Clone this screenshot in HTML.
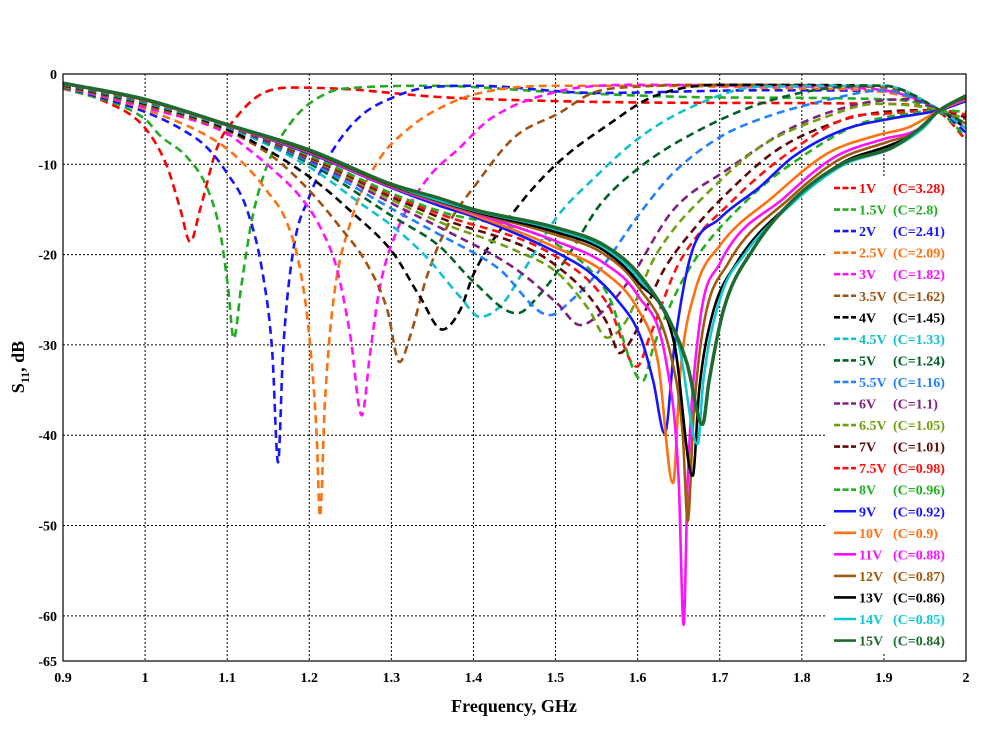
<!DOCTYPE html>
<html><head><meta charset="utf-8"><style>
body{margin:0;background:#fff;width:1000px;height:726px;overflow:hidden}
svg text{font-family:"Liberation Serif",serif;font-weight:bold}
</style></head><body>
<svg id="chart" width="1000" height="726" viewBox="0 0 1000 726" xmlns="http://www.w3.org/2000/svg"></svg>
<script>
const xTicks=[0.9,1,1.1,1.2,1.3,1.4,1.5,1.6,1.7,1.8,1.9,2];
const xTickLabels=["0.9","1","1.1","1.2","1.3","1.4","1.5","1.6","1.7","1.8","1.9","2"];
const yTicks=[0,-10,-20,-30,-40,-50,-60,-65];
const yTickLabels=["0","-10","-20","-30","-40","-50","-60","-65"];
const voltLabels=["1V","1.5V","2V","2.5V","3V","3.5V","4V","4.5V","5V","5.5V","6V","6.5V","7V","7.5V","8V","9V","10V","11V","12V","13V","14V","15V"];
const capLabels=["(C=3.28)","(C=2.8)","(C=2.41)","(C=2.09)","(C=1.82)","(C=1.62)","(C=1.45)","(C=1.33)","(C=1.24)","(C=1.16)","(C=1.1)","(C=1.05)","(C=1.01)","(C=0.98)","(C=0.96)","(C=0.92)","(C=0.9)","(C=0.88)","(C=0.87)","(C=0.86)","(C=0.85)","(C=0.84)"];
const s1=[[0.9,-1.6],[0.95,-3],[1.0,-6],[1.027,-10.3],[1.043,-15],[1.055,-18.6],[1.067,-15],[1.088,-8.1],[1.112,-4.7],[1.14,-2.3],[1.18,-1.5],[1.25,-1.7],[1.3,-2.1],[1.35,-2.5],[1.5,-3],[1.7,-3.2],[1.9,-3.3],[1.968,-4.3],[2.0,-7.3]];
const s15=[[0.9,-1.5],[1.0,-5],[1.018,-6.8],[1.051,-9.2],[1.075,-12.5],[1.091,-17.3],[1.101,-23.6],[1.108,-29.3],[1.117,-23.6],[1.13,-16.2],[1.148,-10.3],[1.18,-5.1],[1.222,-2.1],[1.26,-1.5],[1.35,-1.3],[1.5,-2],[1.7,-2.6],[1.9,-2.8],[1.968,-4.2],[2.0,-7]];
const s2=[[0.9,-1.4],[1.0,-4.2],[1.046,-6.2],[1.075,-8.1],[1.1,-11],[1.124,-15],[1.144,-22.5],[1.155,-30.9],[1.162,-43],[1.168,-30.9],[1.18,-19.8],[1.2,-13.6],[1.229,-8.4],[1.262,-4.7],[1.302,-2.6],[1.343,-1.5],[1.4,-1.3],[1.55,-2.1],[1.75,-1.8],[1.9,-1.9],[1.968,-4],[2.0,-6.5]];
const s25=[[0.9,-1.35],[1.0,-3.9],[1.091,-7.7],[1.124,-10.3],[1.148,-12.9],[1.173,-16.5],[1.189,-21.7],[1.2,-29],[1.209,-40],[1.213,-49],[1.219,-36.5],[1.229,-25.4],[1.25,-16.5],[1.282,-9.9],[1.323,-5.9],[1.363,-3.6],[1.408,-2.1],[1.5,-1.3],[1.6,-1.3],[1.8,-1.6],[1.9,-2],[1.968,-4],[2.0,-6]];
const s3=[[0.9,-1.3],[1.0,-3.7],[1.1,-6.6],[1.124,-8.2],[1.156,-10.6],[1.189,-13.6],[1.213,-16.9],[1.234,-21.7],[1.25,-29],[1.264,-37.8],[1.274,-31],[1.286,-23.6],[1.307,-17.3],[1.343,-11.7],[1.384,-8.1],[1.42,-5],[1.5,-2],[1.6,-1.2],[1.8,-1.4],[1.9,-1.8],[1.968,-4],[2.0,-6]];
const s35=[[0.9,-1.3],[1.0,-3.5],[1.1,-6.3],[1.156,-9.2],[1.2,-12.9],[1.237,-16.9],[1.27,-21],[1.295,-26.1],[1.31,-31.9],[1.323,-29],[1.343,-22.5],[1.368,-16.9],[1.404,-12.1],[1.45,-7],[1.505,-4.3],[1.545,-2.1],[1.6,-1.4],[1.7,-1.2],[1.9,-1.5],[1.968,-4],[2.0,-5.5]];
const s4=[[0.9,-1.25],[1.0,-3.3],[1.1,-6.1],[1.205,-11.7],[1.253,-15.4],[1.302,-19.8],[1.335,-24.7],[1.362,-28.3],[1.384,-26.1],[1.4,-22.2],[1.448,-15.4],[1.502,-9.9],[1.566,-5.5],[1.619,-2.5],[1.7,-1.2],[1.9,-1.3],[1.968,-4],[2.0,-6]];
const s45=[[0.9,-1.2],[1.0,-3.2],[1.1,-5.9],[1.2,-10.3],[1.262,-14.3],[1.302,-16.9],[1.343,-20.3],[1.384,-24.7],[1.408,-26.9],[1.435,-25.5],[1.461,-21.8],[1.502,-15.8],[1.545,-11.7],[1.603,-7],[1.667,-3.6],[1.749,-1.4],[1.9,-1.3],[1.968,-4],[2.0,-6]];
const s5=[[0.9,-1.2],[1.0,-3.1],[1.1,-5.8],[1.2,-9.9],[1.302,-15.8],[1.359,-19.1],[1.4,-23],[1.453,-26.5],[1.48,-24.5],[1.514,-20.3],[1.554,-14.5],[1.603,-10.3],[1.667,-6.6],[1.749,-3.3],[1.83,-1.6],[1.9,-1.3],[1.968,-4],[2.0,-5.5]];
const s55=[[0.9,-1.15],[1.0,-3.05],[1.1,-5.8],[1.2,-9.7],[1.302,-15],[1.359,-17.8],[1.43,-21.5],[1.493,-26.7],[1.52,-25],[1.554,-21.7],[1.603,-15.4],[1.643,-11],[1.7,-7],[1.749,-5],[1.83,-2.9],[1.9,-1.8],[1.968,-4],[2.0,-5]];
const s6=[[0.9,-1.15],[1.0,-3],[1.1,-5.75],[1.2,-9.5],[1.3,-14.3],[1.359,-17],[1.45,-21.5],[1.502,-25.4],[1.53,-27.8],[1.555,-26.5],[1.587,-23.2],[1.643,-15.1],[1.709,-10.6],[1.789,-5.9],[1.871,-3.3],[1.93,-2.8],[1.968,-4],[2.0,-5]];
const s65=[[0.9,-1.1],[1.0,-3],[1.1,-5.7],[1.2,-9.3],[1.3,-13.9],[1.359,-16.4],[1.45,-19.5],[1.502,-22],[1.54,-26],[1.563,-29.2],[1.585,-27.5],[1.619,-20.6],[1.643,-17.3],[1.676,-14],[1.749,-8.1],[1.831,-4.7],[1.891,-3.3],[1.968,-4],[2.0,-5]];
const s7=[[0.9,-1.1],[1.0,-2.95],[1.1,-5.7],[1.2,-9.2],[1.3,-13.6],[1.359,-15.9],[1.502,-21.3],[1.563,-27.6],[1.578,-30.9],[1.595,-29],[1.63,-22],[1.67,-17],[1.7,-14],[1.77,-8.4],[1.85,-5.1],[1.891,-4.3],[1.968,-4],[2.0,-4.8]];
const s75=[[0.9,-1.1],[1.0,-2.95],[1.1,-5.7],[1.2,-9.1],[1.3,-13.4],[1.359,-15.5],[1.502,-20.3],[1.563,-25.4],[1.599,-32.4],[1.615,-29],[1.65,-21],[1.716,-14],[1.789,-8.4],[1.862,-4.7],[1.9,-4.4],[1.968,-4],[2.0,-4.5]];
const s8=[[0.9,-1.1],[1.0,-2.9],[1.1,-5.65],[1.2,-9],[1.3,-13.2],[1.359,-15.2],[1.502,-18.9],[1.563,-24.3],[1.606,-34],[1.62,-30],[1.66,-22],[1.733,-14],[1.806,-8.8],[1.871,-5.5],[1.93,-4.4],[1.968,-4],[2.0,-4.2]];
const s9=[[0.9,-1.05],[1.0,-2.9],[1.1,-5.7],[1.2,-8.8],[1.3,-12.6],[1.359,-14.6],[1.4,-15.8],[1.502,-19.8],[1.542,-22],[1.575,-25],[1.603,-29],[1.619,-34],[1.633,-39.8],[1.645,-30],[1.665,-20],[1.7,-16],[1.749,-12.5],[1.789,-9.2],[1.85,-6.2],[1.911,-4.9],[1.968,-4],[2.0,-3]];
const s10=[[0.9,-1.05],[1.0,-2.9],[1.1,-5.7],[1.2,-8.7],[1.3,-12.5],[1.4,-15.6],[1.5,-19.2],[1.56,-22],[1.6,-26],[1.625,-32],[1.643,-45.3],[1.652,-33],[1.67,-24],[1.7,-19],[1.765,-13.6],[1.831,-8.8],[1.891,-6.8],[1.93,-5.9],[1.968,-4],[2.0,-2.8]];
const s11=[[0.9,-1.05],[1.0,-2.85],[1.1,-5.65],[1.2,-8.7],[1.3,-12.5],[1.4,-15.4],[1.5,-18.5],[1.56,-21],[1.6,-24.5],[1.635,-32],[1.65,-45],[1.656,-61],[1.661,-45],[1.675,-28],[1.7,-21],[1.78,-13.6],[1.84,-9.2],[1.9,-7.2],[1.94,-6.2],[1.968,-4],[2.0,-2.7]];
const s12=[[0.9,-1.05],[1.0,-2.85],[1.1,-5.65],[1.2,-8.6],[1.3,-12.4],[1.4,-15.3],[1.5,-17.8],[1.56,-20],[1.6,-23.5],[1.64,-31],[1.655,-40],[1.661,-49.5],[1.668,-38],[1.68,-28],[1.71,-21],[1.785,-13.8],[1.845,-9.5],[1.905,-7.5],[1.945,-6.2],[1.968,-4],[2.0,-2.6]];
const s13=[[0.9,-1.0],[1.0,-2.85],[1.1,-5.6],[1.2,-8.5],[1.3,-12.3],[1.4,-15.2],[1.5,-17.5],[1.56,-19.6],[1.6,-23],[1.645,-30],[1.667,-44.5],[1.675,-35],[1.69,-27],[1.72,-21],[1.79,-14],[1.85,-9.8],[1.91,-7.8],[1.945,-6.2],[1.968,-4],[2.0,-2.5]];
const s14=[[0.9,-1.0],[1.0,-2.8],[1.1,-5.6],[1.2,-8.45],[1.3,-12.25],[1.4,-15.1],[1.5,-17.2],[1.56,-19.3],[1.6,-22.5],[1.65,-30],[1.673,-41],[1.68,-34],[1.7,-25],[1.73,-20],[1.79,-14.2],[1.85,-10.1],[1.91,-8.2],[1.945,-6.2],[1.968,-4],[2.0,-2.4]];
const s15v=[[0.9,-1.0],[1.0,-2.8],[1.1,-5.6],[1.2,-8.4],[1.3,-12.2],[1.36,-13.8],[1.4,-15],[1.5,-17],[1.56,-19],[1.6,-22],[1.64,-27.5],[1.66,-32],[1.679,-38.8],[1.687,-34],[1.705,-26],[1.74,-19.5],[1.789,-14],[1.85,-9.9],[1.911,-8.1],[1.944,-6],[1.968,-4],[2.0,-2.4]];
const seriesData=[s1,s15,s2,s25,s3,s35,s4,s45,s5,s55,s6,s65,s7,s75,s8,s9,s10,s11,s12,s13,s14,s15v];
const colors=["#ff0000","#22aa22","#1515ff","#ff7010","#ff10ff","#a05010","#000000","#10c0d0","#006025","#2080ff","#802080","#70a010","#600808","#ff1010","#20b020","#1515ff","#ff7010","#ff10ff","#a05a10","#000000","#10c8d0","#1e6a30"];

const X0=63,X1=966,Y0=74,Y1=661;
function xs(f){return X0+(f-0.9)/1.1*(X1-X0);}
function ys(d){return Y0+(-d)/65*(Y1-Y0);}
const NS="http://www.w3.org/2000/svg";
const svg=document.getElementById('chart');
function mk(t,a,p){const e=document.createElementNS(NS,t);for(const k in a)e.setAttribute(k,a[k]);(p||svg).appendChild(e);return e;}

function monoPath(pts){
  const P=pts.map(p=>[xs(p[0]),ys(p[1])]);const n=P.length;
  const d=[],m=[];
  for(let i=0;i<n-1;i++)d.push((P[i+1][1]-P[i][1])/(P[i+1][0]-P[i][0]));
  m[0]=d[0];m[n-1]=d[n-2];
  for(let i=1;i<n-1;i++){m[i]=(d[i-1]*d[i]<=0)?0:(d[i-1]+d[i])/2;}
  for(let i=0;i<n-1;i++){if(d[i]===0){m[i]=m[i+1]=0;continue;}const a=m[i]/d[i],b=m[i+1]/d[i],s=a*a+b*b;if(s>9){const t=3/Math.sqrt(s);m[i]=t*a*d[i];m[i+1]=t*b*d[i];}}
  let s="M"+P[0][0].toFixed(2)+","+P[0][1].toFixed(2);
  for(let i=0;i<n-1;i++){const h=(P[i+1][0]-P[i][0])/3;
    s+="C"+(P[i][0]+h).toFixed(2)+","+(P[i][1]+m[i]*h).toFixed(2)+" "+(P[i+1][0]-h).toFixed(2)+","+(P[i+1][1]-m[i+1]*h).toFixed(2)+" "+P[i+1][0].toFixed(2)+","+P[i+1][1].toFixed(2);}
  return s;
}

const grid=mk('g',{});


xTicks.forEach((t,i)=>{if(i>0&&i<xTicks.length-1){const l=mk('line',{x1:xs(t),x2:xs(t),y1:Y0,y2:Y1,stroke:'#000','stroke-width':1,'stroke-dasharray':'2,2'},grid);}});
yTicks.forEach((t,i)=>{if(i>0&&i<yTicks.length-1){const l=mk('line',{x1:X0,x2:X1,y1:ys(t),y2:ys(t),stroke:'#000','stroke-width':1,'stroke-dasharray':'2,2'},grid);}});

const sg=mk('g',{});


seriesData.forEach((pts,i)=>{
  const dashed=i<15;
  const p=mk('path',{d:monoPath(pts),fill:'none',stroke:colors[i],'stroke-width':i==21?3.5:2.6,'stroke-dasharray':dashed?'8,5':'none','stroke-linejoin':'round'},sg);
  
  
});

const fr=mk('rect',{x:X0,y:Y0,width:X1-X0,height:Y1-Y0,fill:'none',stroke:'#000','stroke-width':1.2});



xTicks.forEach((t,i)=>{const e=mk('text',{x:xs(t),y:682,'font-size':14,'text-anchor':'middle'});e.textContent=xTickLabels[i];});
yTicks.forEach((t,i)=>{const e=mk('text',{x:57,y:ys(t)+5,'font-size':14,'text-anchor':'end'});e.textContent=yTickLabels[i];});

const xt=mk('text',{x:514,y:712,'font-size':18,'text-anchor':'middle'});xt.textContent='Frequency, GHz';


const yt=mk('text',{x:0,y:0,'font-size':18,'text-anchor':'middle',transform:'translate(24,367) rotate(-90)'});


yt.innerHTML='S<tspan font-size="12" dy="5">11</tspan><tspan dy="-5">, dB</tspan>';

const lg=mk('g',{});


mk('rect',{x:827,y:178,width:138,height:474,fill:'#fff'},lg);
voltLabels.forEach((v,i)=>{
  const y=188+i*21.55;
  const ent=mk('g',{},lg);
  
  
  mk('line',{x1:834,x2:856,y1:y,y2:y,stroke:colors[i],'stroke-width':2.6,'stroke-dasharray':i<15?'6,2.5':'none'},ent);
  const t1=mk('text',{x:859,y:y+5,'font-size':14,fill:colors[i]},ent);t1.textContent=v;
  const t2=mk('text',{x:893,y:y+5,'font-size':14,fill:colors[i]},ent);t2.textContent=capLabels[i];
});
</script>
</body></html>
